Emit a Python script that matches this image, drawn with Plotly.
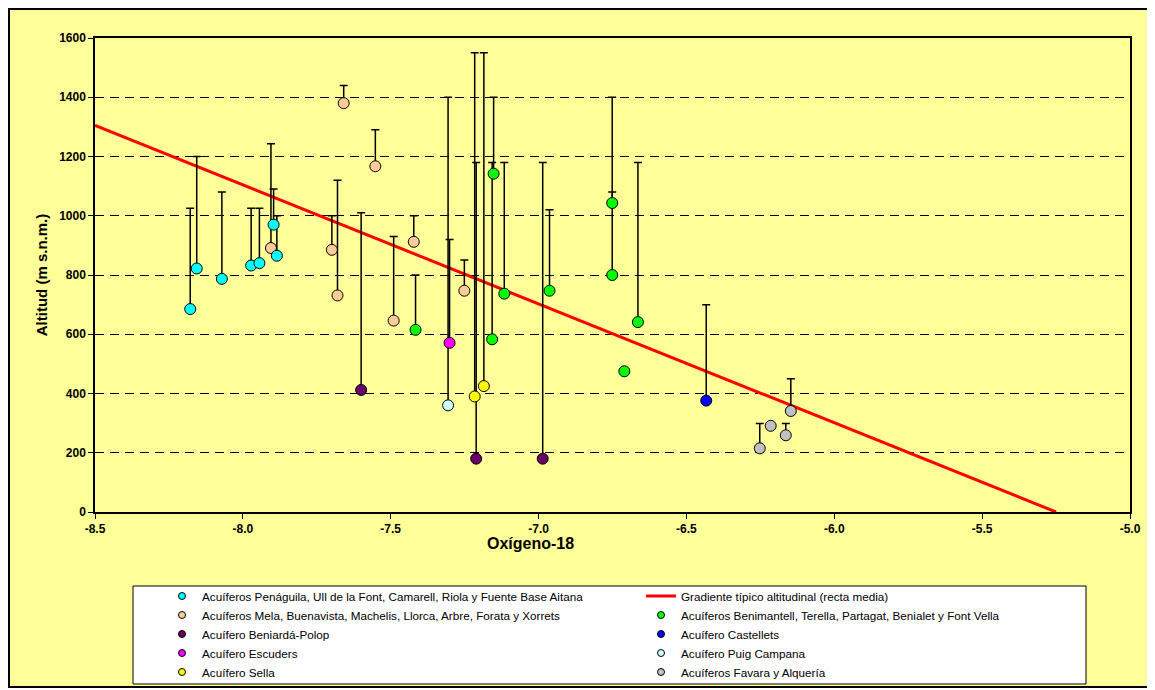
import plotly.graph_objects as go

# ---------------- data ----------------
x_tick_vals = [-8.5, -8.0, -7.5, -7.0, -6.5, -6.0, -5.5, -5.0]
x_tick_text = ["-8.5", "-8.0", "-7.5", "-7.0", "-6.5", "-6.0", "-5.5", "-5.0"]
y_tick_vals = [0, 200, 400, 600, 800, 1000, 1200, 1400, 1600]

# Acuíferos Penáguila, Ull de la Font, Camarell, Riola y Fuente Base Aitana
pen_x = [-8.178, -8.156, -8.071, -7.972, -7.944, -7.896, -7.885]
pen_y = [685, 822, 787, 832, 840, 970, 865]
pen_top = [1025, 1200, 1080, 1025, 1025, 1090, 1000]

# Acuíferos Mela, Buenavista, Machelis, Llorca, Arbre, Forata y Xorrets
mel_x = [-7.905, -7.699, -7.680, -7.659, -7.552, -7.490, -7.422, -7.251]
mel_y = [891, 885, 731, 1380, 1167, 646, 912, 747]
mel_top = [1243, 1000, 1120, 1440, 1290, 930, 1000, 851]

# Acuífero Beniardá-Polop
ben_x = [-7.600, -7.211, -6.986]
ben_y = [412, 180, 180]
ben_top = [1010, 1180, 1180]

# Acuífero Escuders
esc_x = [-7.301]
esc_y = [571]
esc_top = [920]

# Acuífero Sella
sel_x = [-7.216, -7.185]
sel_y = [390, 425]
sel_top = [1550, 1550]

# Acuíferos Benimantell, Terella, Partagat, Benialet y Font Vella
bmt_x = [-7.416, -7.157, -7.152, -7.116, -6.963, -6.751, -6.751, -6.710, -6.664]
bmt_y = [615, 583, 1142, 737, 747, 1043, 800, 475, 641]
bmt_top = [800, 1180, 1400, 1180, 1020, 1080, 1400, 475, 1180]

# Acuífero Castellets
cas_x = [-6.433]
cas_y = [376]
cas_top = [700]

# Acuífero Puig Campana
pui_x = [-7.306]
pui_y = [360]
pui_top = [1400]

# Acuíferos Favara y Alquería
fav_x = [-6.252, -6.215, -6.164, -6.147]
fav_y = [215, 291, 259, 341]
fav_top = [299, 291, 299, 450]

# Gradiente típico altitudinal (recta media)
grad_x = [-8.5, -5.25]
grad_y = [1305, 0]

# ---------------- layout geometry ----------------
OFF = 8  # page body margin
W, H = 1147, 682
ML, MT = 87, 30
PW, PH = 1035, 474
MR = W - ML - PW
MB = H - MT - PH


def px(xpix):
    return (xpix - OFF - ML) / PW


def py(ypix):
    return (H - MB - (ypix - OFF)) / PH


FONT = "Liberation Sans, Arial, sans-serif"

groups = [
    # name, x, y, top, color, legendrank
    ("Acuífero Puig Campana", pui_x, pui_y, pui_top, "#CCFFFF", 8),
    ("Acuíferos Mela, Buenavista, Machelis, Llorca, Arbre, Forata y Xorrets", mel_x, mel_y, mel_top, "#FFCC99", 3),
    ("Acuíferos Penáguila, Ull de la Font, Camarell, Riola y Fuente Base Aitana", pen_x, pen_y, pen_top, "#00FFFF", 1),
    ("Acuífero Beniardá-Polop", ben_x, ben_y, ben_top, "#660066", 5),
    ("Acuífero Sella", sel_x, sel_y, sel_top, "#FFFF00", 9),
    ("Acuífero Escuders", esc_x, esc_y, esc_top, "#FF00FF", 7),
    ("Acuíferos Benimantell, Terella, Partagat, Benialet y Font Vella", bmt_x, bmt_y, bmt_top, "#00FF00", 4),
    ("Acuífero Castellets", cas_x, cas_y, cas_top, "#0000FF", 6),
    ("Acuíferos Favara y Alquería", fav_x, fav_y, fav_top, "#C0C0C0", 10),
]

fig = go.Figure()

# gradient line (drawn first, beneath markers)
fig.add_trace(go.Scatter(
    x=grad_x, y=grad_y, mode="lines",
    line=dict(color="#FF0000", width=3),
    name="Gradiente típico altitudinal (recta media)",
    legendrank=2, showlegend=True, hoverinfo="skip",
))

for name, xs, ys, tops, color, rank in groups:
    plus = [t - v for t, v in zip(tops, ys)]
    fig.add_trace(go.Scatter(
        x=xs, y=ys, mode="markers",
        marker=dict(size=11, color=color, line=dict(color="black", width=1)),
        error_y=dict(type="data", symmetric=False, array=plus,
                     arrayminus=[0] * len(ys), color="black",
                     thickness=1.5, width=4),
        name=name, showlegend=False,
    ))
    # legend entry with small marker
    fig.add_trace(go.Scatter(
        x=[None], y=[None], mode="markers",
        marker=dict(size=7, color=color, line=dict(color="black", width=1)),
        name=name, legendrank=rank, showlegend=True,
    ))

shapes = [
    # outer chart frame
    dict(type="rect", xref="paper", yref="paper", layer="below",
         x0=px(9), x1=px(1151), y0=py(687), y1=py(9),
         fillcolor="#FFFF99", line=dict(color="black", width=2)),
    # legend box
    dict(type="rect", xref="paper", yref="paper", layer="below",
         x0=px(133), x1=px(1086), y0=py(684), y1=py(586),
         fillcolor="white", line=dict(color="black", width=1)),
]

annotations = [
    dict(text="<b>Oxígeno-18</b>", xref="paper", yref="paper",
         x=px(530), y=py(543), xanchor="center", yanchor="middle",
         showarrow=False, font=dict(family=FONT, size=16, color="black")),
]

fig.update_layout(
    width=W, height=H,
    margin=dict(l=ML, r=MR, t=MT, b=MB, autoexpand=False),
    paper_bgcolor="white",
    plot_bgcolor="#FFFF99",
    font=dict(family=FONT, color="black"),
    shapes=shapes,
    annotations=annotations,
    showlegend=True,
    legend=dict(
        orientation="h",
        x=px(162), y=py(581.5), xanchor="left", yanchor="top",
        bgcolor="rgba(0,0,0,0)", borderwidth=0,
        entrywidth=434, entrywidthmode="pixels",
        font=dict(family=FONT, size=11.7, color="black"),
        traceorder="normal",
    ),
    xaxis=dict(
        range=[-8.5, -5.0], tickvals=x_tick_vals, ticktext=x_tick_text,
        showgrid=False, zeroline=False,
        showline=True, linecolor="black", linewidth=1.5, mirror=True,
        ticks="outside", ticklen=5, tickcolor="black", tickwidth=1,
        tickfont=dict(family=FONT, size=12, color="black", weight="bold"),
    ),
    yaxis=dict(
        range=[0, 1600], tickvals=y_tick_vals,
        showgrid=True, gridcolor="black", gridwidth=1, griddash="9px,6px",
        zeroline=False,
        showline=True, linecolor="black", linewidth=1.5, mirror=True,
        ticks="outside", ticklen=5, tickcolor="black", tickwidth=1,
        tickfont=dict(family=FONT, size=12, color="black", weight="bold"),
        title=dict(text="<b>Altitud (m s.n.m.)</b>", standoff=8,
                   font=dict(family=FONT, size=15, color="black")),
    ),
)

fig.write_html("out.html")
